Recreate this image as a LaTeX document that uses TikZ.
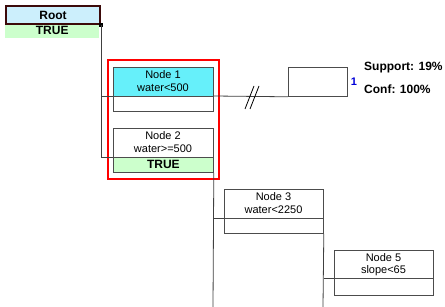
\documentclass[tikz,border=0pt]{standalone}
\usepackage{fontspec}
\setmainfont{Liberation Sans}
\usetikzlibrary{calc}
\begin{document}
\begin{tikzpicture}[x=1pt,y=-1pt,
  box/.style={draw=black!70, line width=0.8pt, inner sep=0pt, anchor=north west},
  lbl/.style={inner sep=0pt, font=\fontsize{11}{12}\selectfont},
  blbl/.style={inner sep=0pt, font=\fontsize{12}{14}\selectfont\bfseries},
  link/.style={draw=black!75, line width=0.8pt},
  truefill/.style={fill=green!20, draw=none, inner sep=0pt, anchor=north west}]
\useasboundingbox (0,0) rectangle (445,307);
\fill[white] (0,0) rectangle (445,307);
% Root
\node[truefill, minimum width=94, minimum height=15] (rtrue) at (5,23) {};
\node[blbl] at (rtrue.center) {TRUE};
\node[anchor=north west, inner sep=0pt, minimum width=94, minimum height=18, fill=cyan!20, draw={rgb,255:red,60;green,10;blue,10}, line width=2pt] (root) at (5,5) {};
\node[blbl] at (root.center) {Root};
\fill[black] ($(root.south east)+(-2,-2)$) rectangle ++(4,4);
% red selection
\node[anchor=north west, inner sep=0pt, minimum width=111, minimum height=119, draw=red, line width=2pt] (sel) at (107,59) {};
% Node 1
\node[box, fill={rgb,255:red,102;green,240;blue,250}, minimum width=100, minimum height=29] (n1top) at (113,67) {};
\node[box, minimum width=100, minimum height=15] (n1bot) at (113,96) {};
\node[lbl] at (163,75) {Node 1};
\node[lbl] at (163,88) {water<500};
% Node 2
\node[box, minimum width=100, minimum height=29] (n2top) at (113,128) {};
\node[box, fill=green!20, minimum width=100, minimum height=15] (n2bot) at (113,157) {};
\node[lbl] at (163,136) {Node 2};
\node[lbl] at (163,149) {water>=500};
\node[blbl] at (n2bot.center) {TRUE};
% collapsed leaf
\node[box, minimum width=59, minimum height=29] (leaf) at (288,67) {};
\node[inner sep=0pt, text=blue!85!black, font=\fontsize{11}{12}\selectfont\bfseries] (one) at (354,82) {1};
\node[blbl, anchor=west] (sup) at (364,68) {Support: 19\%};
\node[blbl, anchor=west] (conf) at (364,89) {Conf: 100\%};
% Node 3
\node[box, minimum width=99, minimum height=29] (n3top) at (224,189) {};
\node[box, minimum width=99, minimum height=15] (n3bot) at (224,218) {};
\node[lbl] at (273.5,197) {Node 3};
\node[lbl] at (273.5,210) {water<2250};
% Node 5
\node[box, minimum width=99, minimum height=28] (n5top) at (334,250) {};
\node[box, minimum width=99, minimum height=17] (n5bot) at (334,278) {};
\node[lbl] at (383.5,258) {Node 5};
\node[lbl] at (383.5,271) {slope<65};
% connectors
\coordinate (b1) at (213,307);
\coordinate (b2) at (323,307);
\draw[link] (root.south east) -- (root.south east |- n2bot.north west) -- (n2bot.north west);
\draw[link] (root.south east |- n1bot.north west) -- (n1bot.north west);
\draw[link] (n1bot.north east) -- (leaf.south west);
\draw[link] (n2bot.south east) -- (b1);
\draw[link] (n2bot.south east |- n3bot.north west) -- (n3bot.north west);
\draw[link] (n3bot.south east) -- (b2);
\draw[link] (n3bot.south east |- n5bot.north west) -- (n5bot.north west);
% break marks
\draw[black, line width=0.8pt] (245,109) -- (254,86);
\draw[black, line width=0.8pt] (250,109) -- (259,86);
\end{tikzpicture}
\end{document}
